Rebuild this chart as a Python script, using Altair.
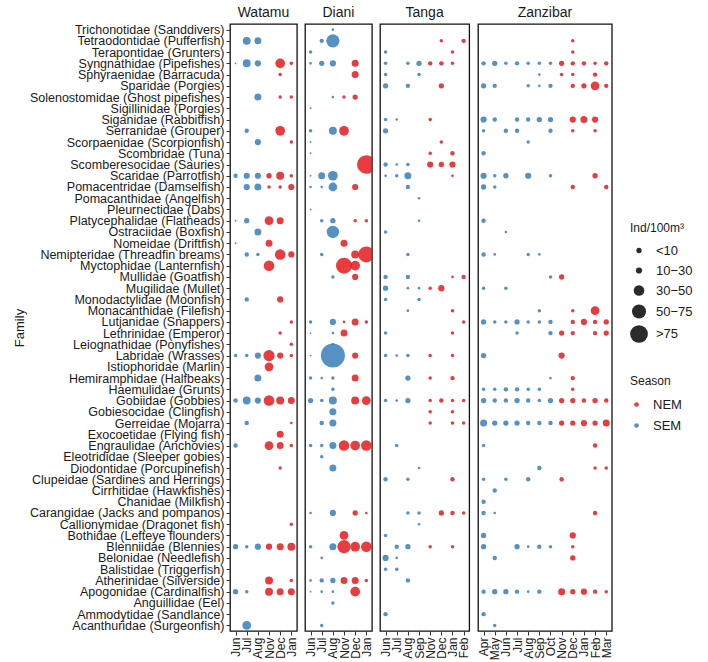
import altair as alt
import pandas as pd

# Families, top to bottom
FAMILIES = [
    "Trichonotidae (Sanddivers)", "Tetraodontidae (Pufferfish)", "Terapontidae (Grunters)",
    "Syngnathidae (Pipefishes)", "Sphyraenidae (Barracuda)", "Sparidae (Porgies)",
    "Solenostomidae (Ghost pipefishes)", "Sigillinidae (Porgies)", "Siganidae (Rabbitfish)",
    "Serranidae (Grouper)", "Scorpaenidae (Scorpionfish)", "Scombridae (Tuna)",
    "Scomberesocidae (Sauries)", "Scaridae (Parrotfish)", "Pomacentridae (Damselfish)",
    "Pomacanthidae (Angelfish)", "Pleurnectidae (Dabs)", "Platycephalidae (Flatheads)",
    "Ostraciidae (Boxfish)", "Nomeidae (Driftfish)", "Nemipteridae (Threadfin breams)",
    "Myctophidae (Lanternfish)", "Mullidae (Goatfish)", "Mugilidae (Mullet)",
    "Monodactylidae (Moonfish)", "Monacanthidae (Filefish)", "Lutjanidae (Snappers)",
    "Lethrinidae (Emperor)", "Leiognathidae (Ponyfishes)", "Labridae (Wrasses)",
    "Istiophoridae (Marlin)", "Hemiramphidae (Halfbeaks)", "Haemulidae (Grunts)",
    "Gobiidae (Gobbies)", "Gobiesocidae (Clingfish)", "Gerreidae (Mojarra)",
    "Exocoetidae (Flying fish)", "Engraulidae (Anchovies)", "Eleotrididae (Sleeper gobies)",
    "Diodontidae (Porcupinefish)", "Clupeidae (Sardines and Herrings)", "Cirrhitidae (Hawkfishes)",
    "Chanidae (Milkfish)", "Carangidae (Jacks and pompanos)", "Callionymidae (Dragonet fish)",
    "Bothidae (Lefteye flounders)", "Blenniidae (Blennies)", "Belonidae (Needlefish)",
    "Balistidae (Triggerfish)", "Atherinidae (Silverside)", "Apogonidae (Cardinalfish)",
    "Anguillidae (Eel)", "Ammodytidae (Sandlance)", "Acanthuridae (Surgeonfish)",
]

SITES = ["Watamu", "Diani", "Tanga", "Zanzibar"]
SITE_MONTHS = {
    "Watamu": ["Jun", "Jul", "Aug", "Nov", "Dec", "Jan"],
    "Diani": ["Jun", "Jul", "Aug", "Nov", "Dec", "Jan"],
    "Tanga": ["Jun", "Jul", "Aug", "Sep", "Nov", "Dec", "Jan", "Feb"],
    "Zanzibar": ["Apr", "May", "Jun", "Jul", "Aug", "Sep", "Oct", "Nov", "Dec", "Jan", "Feb", "Mar"],
}
NEM_MONTHS = ["Nov", "Dec", "Jan", "Feb", "Mar"]

# Larval density (Ind/100m3) per family and sampling month
WATAMU = [
    ("Tetraodontidae", "Jul", 18), ("Tetraodontidae", "Aug", 14),
    ("Syngnathidae", "Jun", 1), ("Syngnathidae", "Jul", 18), ("Syngnathidae", "Aug", 11),
    ("Syngnathidae", "Dec", 27), ("Syngnathidae", "Jan", 3.5),
    ("Sphyraenidae", "Dec", 3.5),
    ("Solenostomidae", "Aug", 14), ("Solenostomidae", "Dec", 3.5), ("Solenostomidae", "Jan", 3.5),
    ("Serranidae", "Jul", 5.5), ("Serranidae", "Dec", 27),
    ("Scorpaenidae", "Aug", 11), ("Scorpaenidae", "Jan", 3.5),
    ("Scaridae", "Jun", 5.5), ("Scaridae", "Jul", 11), ("Scaridae", "Aug", 11),
    ("Scaridae", "Nov", 8), ("Scaridae", "Dec", 18), ("Scaridae", "Jan", 3.5),
    ("Pomacentridae", "Jul", 11), ("Pomacentridae", "Aug", 14), ("Pomacentridae", "Nov", 3.5),
    ("Pomacentridae", "Dec", 3.5), ("Pomacentridae", "Jan", 11),
    ("Platycephalidae", "Jun", 1), ("Platycephalidae", "Jul", 8), ("Platycephalidae", "Nov", 22),
    ("Platycephalidae", "Dec", 14),
    ("Ostraciidae", "Aug", 14),
    ("Nomeidae", "Jun", 1), ("Nomeidae", "Nov", 14),
    ("Nemipteridae", "Jul", 5.5), ("Nemipteridae", "Aug", 3.5), ("Nemipteridae", "Dec", 32),
    ("Nemipteridae", "Jan", 11),
    ("Myctophidae", "Nov", 32),
    ("Monodactylidae", "Jul", 5.5), ("Monodactylidae", "Dec", 11),
    ("Lutjanidae", "Jan", 3.5),
    ("Lethrinidae", "Dec", 3.5),
    ("Leiognathidae", "Jan", 3.5),
    ("Labridae", "Jun", 3.5), ("Labridae", "Jul", 3.5), ("Labridae", "Aug", 11),
    ("Labridae", "Nov", 36), ("Labridae", "Dec", 11), ("Labridae", "Jan", 3.5),
    ("Istiophoridae", "Nov", 22),
    ("Hemiramphidae", "Aug", 14),
    ("Gobiidae", "Jun", 5.5), ("Gobiidae", "Jul", 18), ("Gobiidae", "Aug", 11),
    ("Gobiidae", "Nov", 32), ("Gobiidae", "Dec", 18), ("Gobiidae", "Jan", 14),
    ("Gerreidae", "Jul", 5.5), ("Gerreidae", "Jan", 2),
    ("Exocoetidae", "Dec", 14),
    ("Engraulidae", "Jun", 5.5), ("Engraulidae", "Nov", 22), ("Engraulidae", "Dec", 14),
    ("Engraulidae", "Jan", 3.5),
    ("Diodontidae", "Dec", 3.5),
    ("Callionymidae", "Jan", 3.5),
    ("Blenniidae", "Jun", 8), ("Blenniidae", "Jul", 3.5), ("Blenniidae", "Aug", 11),
    ("Blenniidae", "Nov", 11), ("Blenniidae", "Dec", 14), ("Blenniidae", "Jan", 18),
    ("Atherinidae", "Nov", 18), ("Atherinidae", "Jan", 3.5),
    ("Apogonidae", "Jun", 8), ("Apogonidae", "Jul", 3.5), ("Apogonidae", "Nov", 18),
    ("Apogonidae", "Dec", 14), ("Apogonidae", "Jan", 14),
    ("Acanthuridae", "Jul", 22),
]

DIANI = [
    ("Trichonotidae", "Aug", 2),
    ("Tetraodontidae", "Jul", 5.5), ("Tetraodontidae", "Aug", 50),
    ("Terapontidae", "Jun", 3.5),
    ("Syngnathidae", "Jun", 2), ("Syngnathidae", "Jul", 8), ("Syngnathidae", "Aug", 11),
    ("Syngnathidae", "Dec", 14),
    ("Sphyraenidae", "Dec", 14),
    ("Solenostomidae", "Aug", 2), ("Solenostomidae", "Nov", 3.5), ("Solenostomidae", "Dec", 8),
    ("Sigillinidae", "Jun", 1),
    ("Serranidae", "Jun", 3.5), ("Serranidae", "Aug", 18), ("Serranidae", "Nov", 27),
    ("Scorpaenidae", "Jun", 1),
    ("Scombridae", "Jun", 1),
    ("Scomberesocidae", "Jan", 99),
    ("Scaridae", "Jun", 1), ("Scaridae", "Jul", 14), ("Scaridae", "Aug", 27),
    ("Pomacentridae", "Jun", 2), ("Pomacentridae", "Jul", 2), ("Pomacentridae", "Aug", 22),
    ("Pomacentridae", "Dec", 11),
    ("Pleurnectidae", "Jun", 1),
    ("Platycephalidae", "Jul", 3.5), ("Platycephalidae", "Aug", 8), ("Platycephalidae", "Dec", 3.5),
    ("Platycephalidae", "Jan", 3.5),
    ("Ostraciidae", "Aug", 44),
    ("Nomeidae", "Nov", 14),
    ("Nemipteridae", "Jul", 3.5), ("Nemipteridae", "Dec", 18), ("Nemipteridae", "Jan", 73),
    ("Myctophidae", "Nov", 73), ("Myctophidae", "Dec", 27),
    ("Mullidae", "Aug", 3.5), ("Mullidae", "Dec", 11),
    ("Lutjanidae", "Jun", 3.5), ("Lutjanidae", "Aug", 11), ("Lutjanidae", "Nov", 2),
    ("Lutjanidae", "Dec", 14), ("Lutjanidae", "Jan", 3.5),
    ("Lethrinidae", "Jun", 1), ("Lethrinidae", "Aug", 2), ("Lethrinidae", "Nov", 14),
    ("Leiognathidae", "Aug", 2),
    ("Labridae", "Jun", 1), ("Labridae", "Aug", 165), ("Labridae", "Dec", 11),
    ("Hemiramphidae", "Jun", 3.5), ("Hemiramphidae", "Jul", 2), ("Hemiramphidae", "Aug", 3.5),
    ("Hemiramphidae", "Dec", 14),
    ("Haemulidae", "Aug", 3.5),
    ("Gobiidae", "Jun", 8), ("Gobiidae", "Jul", 3.5), ("Gobiidae", "Aug", 18),
    ("Gobiidae", "Dec", 18), ("Gobiidae", "Jan", 22),
    ("Gobiesocidae", "Aug", 14),
    ("Gerreidae", "Jul", 5.5), ("Gerreidae", "Aug", 14),
    ("Engraulidae", "Jun", 3.5), ("Engraulidae", "Jul", 3.5), ("Engraulidae", "Aug", 14),
    ("Engraulidae", "Nov", 32), ("Engraulidae", "Dec", 27), ("Engraulidae", "Jan", 32),
    ("Eleotrididae", "Jul", 3.5),
    ("Diodontidae", "Aug", 14),
    ("Carangidae", "Jun", 2), ("Carangidae", "Aug", 11), ("Carangidae", "Dec", 8),
    ("Carangidae", "Jan", 2),
    ("Bothidae", "Nov", 22),
    ("Blenniidae", "Jun", 3.5), ("Blenniidae", "Aug", 14), ("Blenniidae", "Nov", 50),
    ("Blenniidae", "Dec", 27), ("Blenniidae", "Jan", 32),
    ("Belonidae", "Jul", 2),
    ("Atherinidae", "Jun", 2), ("Atherinidae", "Jul", 5.5), ("Atherinidae", "Aug", 8),
    ("Atherinidae", "Nov", 14), ("Atherinidae", "Dec", 14), ("Atherinidae", "Jan", 3.5),
    ("Apogonidae", "Jun", 1), ("Apogonidae", "Jul", 2), ("Apogonidae", "Aug", 2),
    ("Apogonidae", "Dec", 27),
    ("Anguillidae", "Aug", 3.5),
    ("Acanthuridae", "Jul", 3.5),
]

TANGA = [
    ("Tetraodontidae", "Dec", 3.5), ("Tetraodontidae", "Feb", 5.5),
    ("Terapontidae", "Jun", 3.5), ("Terapontidae", "Jan", 3.5),
    ("Syngnathidae", "Jun", 3.5), ("Syngnathidae", "Aug", 3.5), ("Syngnathidae", "Sep", 8),
    ("Syngnathidae", "Nov", 5.5), ("Syngnathidae", "Dec", 5.5), ("Syngnathidae", "Jan", 3.5),
    ("Sphyraenidae", "Jun", 3.5), ("Sphyraenidae", "Sep", 3.5),
    ("Sparidae", "Jun", 8), ("Sparidae", "Aug", 5.5), ("Sparidae", "Dec", 8),
    ("Siganidae", "Jun", 3.5), ("Siganidae", "Jul", 2), ("Siganidae", "Nov", 3.5),
    ("Serranidae", "Jun", 8),
    ("Scorpaenidae", "Dec", 3.5),
    ("Scombridae", "Nov", 3.5), ("Scombridae", "Jan", 5.5),
    ("Scomberesocidae", "Jun", 5.5), ("Scomberesocidae", "Jul", 2), ("Scomberesocidae", "Aug", 3.5),
    ("Scomberesocidae", "Nov", 11), ("Scomberesocidae", "Dec", 8), ("Scomberesocidae", "Jan", 11),
    ("Scaridae", "Jun", 2), ("Scaridae", "Jul", 3.5), ("Scaridae", "Aug", 14), ("Scaridae", "Jan", 2),
    ("Pomacentridae", "Aug", 5.5),
    ("Pomacanthidae", "Sep", 2),
    ("Platycephalidae", "Sep", 2),
    ("Ostraciidae", "Jun", 3.5),
    ("Nemipteridae", "Aug", 3.5),
    ("Mullidae", "Jun", 5.5), ("Mullidae", "Aug", 5.5), ("Mullidae", "Jan", 2), ("Mullidae", "Feb", 5.5),
    ("Mugilidae", "Jun", 8), ("Mugilidae", "Aug", 2), ("Mugilidae", "Sep", 2),
    ("Mugilidae", "Nov", 3.5), ("Mugilidae", "Dec", 11),
    ("Monodactylidae", "Jun", 3.5), ("Monodactylidae", "Sep", 3.5),
    ("Monacanthidae", "Aug", 2), ("Monacanthidae", "Jan", 3.5),
    ("Lutjanidae", "Feb", 3.5),
    ("Lethrinidae", "Jun", 3.5), ("Lethrinidae", "Jan", 3.5),
    ("Labridae", "Jun", 3.5), ("Labridae", "Jul", 2), ("Labridae", "Aug", 3.5),
    ("Labridae", "Nov", 3.5), ("Labridae", "Jan", 3.5),
    ("Hemiramphidae", "Aug", 8), ("Hemiramphidae", "Nov", 3.5), ("Hemiramphidae", "Jan", 5.5),
    ("Gobiidae", "Jun", 3.5), ("Gobiidae", "Jul", 2), ("Gobiidae", "Aug", 8), ("Gobiidae", "Nov", 3.5),
    ("Gobiidae", "Dec", 5.5), ("Gobiidae", "Jan", 3.5), ("Gobiidae", "Feb", 3.5),
    ("Gobiesocidae", "Nov", 3.5), ("Gobiesocidae", "Jan", 3.5),
    ("Gerreidae", "Nov", 3.5), ("Gerreidae", "Jan", 3.5), ("Gerreidae", "Feb", 3.5),
    ("Engraulidae", "Jul", 3.5),
    ("Diodontidae", "Sep", 2),
    ("Clupeidae", "Jun", 5.5), ("Clupeidae", "Aug", 3.5), ("Clupeidae", "Jan", 5.5),
    ("Carangidae", "Aug", 3.5), ("Carangidae", "Sep", 3.5), ("Carangidae", "Dec", 8),
    ("Carangidae", "Jan", 5.5), ("Carangidae", "Feb", 3.5),
    ("Callionymidae", "Sep", 2),
    ("Bothidae", "Jun", 3.5),
    ("Blenniidae", "Jul", 5.5), ("Blenniidae", "Aug", 8), ("Blenniidae", "Nov", 3.5),
    ("Blenniidae", "Jan", 3.5),
    ("Belonidae", "Jun", 11), ("Belonidae", "Jul", 2),
    ("Balistidae", "Jun", 3.5), ("Balistidae", "Jul", 3.5),
    ("Atherinidae", "Aug", 5.5),
    ("Ammodytidae", "Jun", 5.5),
]

ZANZIBAR = [
    ("Tetraodontidae", "Dec", 3.5),
    ("Terapontidae", "Dec", 3.5),
    ("Syngnathidae", "Apr", 5.5), ("Syngnathidae", "May", 8), ("Syngnathidae", "Jun", 3.5),
    ("Syngnathidae", "Jul", 5.5), ("Syngnathidae", "Aug", 3.5), ("Syngnathidae", "Sep", 3.5),
    ("Syngnathidae", "Oct", 3.5), ("Syngnathidae", "Nov", 8), ("Syngnathidae", "Dec", 5.5),
    ("Syngnathidae", "Jan", 5.5), ("Syngnathidae", "Feb", 3.5), ("Syngnathidae", "Mar", 5.5),
    ("Sphyraenidae", "Sep", 2), ("Sphyraenidae", "Nov", 3.5), ("Sphyraenidae", "Dec", 3.5),
    ("Sphyraenidae", "Feb", 5.5),
    ("Sparidae", "Apr", 8), ("Sparidae", "May", 5.5), ("Sparidae", "Aug", 3.5), ("Sparidae", "Sep", 2),
    ("Sparidae", "Oct", 5.5), ("Sparidae", "Dec", 5.5), ("Sparidae", "Jan", 8), ("Sparidae", "Feb", 22),
    ("Sparidae", "Mar", 5.5),
    ("Siganidae", "Apr", 11), ("Siganidae", "May", 5.5), ("Siganidae", "Jul", 5.5),
    ("Siganidae", "Aug", 5.5), ("Siganidae", "Sep", 8), ("Siganidae", "Oct", 8),
    ("Siganidae", "Dec", 11), ("Siganidae", "Jan", 14), ("Siganidae", "Feb", 11),
    ("Serranidae", "Apr", 3.5), ("Serranidae", "Jun", 5.5), ("Serranidae", "Jul", 5.5),
    ("Serranidae", "Oct", 5.5), ("Serranidae", "Dec", 3.5), ("Serranidae", "Feb", 3.5),
    ("Scorpaenidae", "Aug", 3.5),
    ("Scombridae", "Apr", 5.5),
    ("Scaridae", "Apr", 11), ("Scaridae", "May", 3.5), ("Scaridae", "Jun", 8), ("Scaridae", "Aug", 11),
    ("Scaridae", "Oct", 3.5), ("Scaridae", "Feb", 8),
    ("Pomacentridae", "Apr", 8), ("Pomacentridae", "May", 3.5), ("Pomacentridae", "Dec", 5.5),
    ("Pomacentridae", "Mar", 5.5),
    ("Platycephalidae", "Apr", 5.5),
    ("Ostraciidae", "Jun", 2),
    ("Nemipteridae", "Apr", 5.5), ("Nemipteridae", "May", 2), ("Nemipteridae", "Aug", 3.5),
    ("Nemipteridae", "Sep", 2),
    ("Mullidae", "Oct", 3.5), ("Mullidae", "Nov", 8),
    ("Mugilidae", "Apr", 3.5), ("Mugilidae", "Jun", 3.5),
    ("Monacanthidae", "Sep", 3.5), ("Monacanthidae", "Dec", 3.5), ("Monacanthidae", "Feb", 22),
    ("Lutjanidae", "Apr", 8), ("Lutjanidae", "May", 3.5), ("Lutjanidae", "Jun", 3.5),
    ("Lutjanidae", "Jul", 8), ("Lutjanidae", "Aug", 3.5), ("Lutjanidae", "Sep", 3.5),
    ("Lutjanidae", "Oct", 5.5), ("Lutjanidae", "Dec", 5.5), ("Lutjanidae", "Jan", 11),
    ("Lutjanidae", "Feb", 5.5), ("Lutjanidae", "Mar", 8),
    ("Lethrinidae", "Jul", 3.5), ("Lethrinidae", "Oct", 5.5), ("Lethrinidae", "Nov", 8),
    ("Lethrinidae", "Dec", 5.5), ("Lethrinidae", "Feb", 5.5), ("Lethrinidae", "Mar", 8),
    ("Labridae", "Apr", 8), ("Labridae", "Nov", 11),
    ("Hemiramphidae", "Oct", 2), ("Hemiramphidae", "Dec", 5.5),
    ("Haemulidae", "Apr", 3.5), ("Haemulidae", "May", 3.5), ("Haemulidae", "Jun", 5.5),
    ("Haemulidae", "Jul", 5.5), ("Haemulidae", "Aug", 3.5), ("Haemulidae", "Sep", 3.5),
    ("Haemulidae", "Dec", 3.5),
    ("Gobiidae", "Apr", 8), ("Gobiidae", "May", 5.5), ("Gobiidae", "Jun", 5.5), ("Gobiidae", "Jul", 8),
    ("Gobiidae", "Aug", 5.5), ("Gobiidae", "Sep", 3.5), ("Gobiidae", "Oct", 8), ("Gobiidae", "Nov", 8),
    ("Gobiidae", "Dec", 8), ("Gobiidae", "Jan", 5.5), ("Gobiidae", "Feb", 8), ("Gobiidae", "Mar", 5.5),
    ("Gerreidae", "Apr", 14), ("Gerreidae", "May", 8), ("Gerreidae", "Jun", 8), ("Gerreidae", "Jul", 8),
    ("Gerreidae", "Aug", 5.5), ("Gerreidae", "Sep", 5.5), ("Gerreidae", "Oct", 5.5),
    ("Gerreidae", "Nov", 8), ("Gerreidae", "Dec", 8), ("Gerreidae", "Jan", 11),
    ("Gerreidae", "Feb", 8), ("Gerreidae", "Mar", 14),
    ("Engraulidae", "Apr", 3.5), ("Engraulidae", "Feb", 5.5),
    ("Diodontidae", "Sep", 5.5), ("Diodontidae", "Feb", 3.5), ("Diodontidae", "Mar", 3.5),
    ("Clupeidae", "Apr", 3.5), ("Clupeidae", "Jun", 3.5), ("Clupeidae", "Aug", 5.5),
    ("Clupeidae", "Nov", 5.5),
    ("Cirrhitidae", "May", 5.5),
    ("Chanidae", "Apr", 5.5),
    ("Carangidae", "Apr", 5.5), ("Carangidae", "May", 2), ("Carangidae", "Feb", 5.5),
    ("Bothidae", "Apr", 8), ("Bothidae", "Dec", 11),
    ("Blenniidae", "Apr", 8), ("Blenniidae", "Jul", 8), ("Blenniidae", "Aug", 2),
    ("Blenniidae", "Sep", 5.5), ("Blenniidae", "Oct", 3.5), ("Blenniidae", "Dec", 3.5),
    ("Belonidae", "May", 5.5), ("Belonidae", "Dec", 8),
    ("Apogonidae", "Apr", 5.5), ("Apogonidae", "May", 8), ("Apogonidae", "Jun", 8),
    ("Apogonidae", "Jul", 5.5), ("Apogonidae", "Aug", 2), ("Apogonidae", "Sep", 5.5),
    ("Apogonidae", "Nov", 14), ("Apogonidae", "Dec", 8), ("Apogonidae", "Jan", 11),
    ("Apogonidae", "Feb", 5.5), ("Apogonidae", "Mar", 3.5),
    ("Ammodytidae", "Apr", 5.5),
    ("Acanthuridae", "May", 3.5),
]

SITE_RECORDS = {"Watamu": WATAMU, "Diani": DIANI, "Tanga": TANGA, "Zanzibar": ZANZIBAR}

SEASONS = ["NEM", "SEM"]
SEASON_COLORS = ["#e41a1c", "#377eb8"]
SIZE_BREAKS = [8, 11, 32, 57, 90]

FONT = "Liberation Sans"
LABEL_FULL = {f.split(" ")[0]: f for f in FAMILIES}

size_scale = alt.Scale(domain=[0, 100], range=[0, 350])
color_scale = alt.Scale(domain=SEASONS, range=SEASON_COLORS)

size_legend = alt.Legend(
    title="Ind/100m³",
    values=SIZE_BREAKS,
    labelExpr=(
        "datum.value < 10 ? '\u2007\u2007<10' : datum.value < 30 ? '10\u221230' : "
        "datum.value < 50 ? '30\u221250' : datum.value < 75 ? '50\u221275' : '\u2007\u2007>75'"
    ),
    orient="none",
    legendX=400,
    legendY=199,
    symbolFillColor="#2b2b2b",
    symbolStrokeWidth=0,
    symbolOpacity=1,
    titlePadding=9,
    rowPadding=6,
    labelOffset=8,
)
color_legend = alt.Legend(
    title="Season",
    orient="none",
    legendX=400,
    legendY=352,
    symbolType="circle",
    symbolSize=22,
    symbolOpacity=0.85,
    rowPadding=7,
    titlePadding=10,
    labelOffset=10,
)


def panel(site, first):
    months = SITE_MONTHS[site]
    df = pd.DataFrame(SITE_RECORDS[site], columns=["family", "month", "density"])
    df["family"] = df["family"].map(LABEL_FULL)
    df["season"] = ["NEM" if m in NEM_MONTHS else "SEM" for m in df["month"]]

    if first:
        y_axis = alt.Axis(
            title="Family", labelFontSize=12.5, labelPadding=2, labelLimit=400, tickSize=4,
            tickColor="#333333", domain=False, titleFontSize=13, titleFontWeight="normal",
            titlePadding=4, gridColor="#c6c6c6", gridWidth=0.9,
        )
    else:
        y_axis = alt.Axis(
            title=None, labels=False, ticks=False, domain=False,
            gridColor="#c6c6c6", gridWidth=0.9,
        )

    return (
        alt.Chart(df, title=alt.TitleParams(site, fontSize=14, fontWeight="normal", offset=4,
                                            anchor="middle", frame="group", font=FONT,
                                            color="#1a1a1a"))
        .mark_circle(opacity=0.85, clip=True)
        .encode(
            x=alt.X("month:N", sort=months, scale=alt.Scale(domain=months),
                    axis=alt.Axis(title=None, labelAngle=-90, labelAlign="right",
                                  labelBaseline="middle", labelFontSize=12, labelPadding=2,
                                  tickSize=4, tickColor="#333333", domain=False, grid=False)),
            y=alt.Y("family:N", scale=alt.Scale(domain=FAMILIES), axis=y_axis),
            size=alt.Size("density:Q", scale=size_scale, legend=size_legend),
            color=alt.Color("season:N", scale=color_scale, legend=color_legend),
        )
        .properties(width=11.15 * len(months), height=607)
    )


chart = (
    alt.hconcat(*[panel(s, i == 0) for i, s in enumerate(SITES)], spacing=5)
    .resolve_scale(x="independent", y="independent", color="shared", size="shared")
    .configure(font=FONT)
    .configure_view(stroke="#111111", strokeWidth=1.3)
    .configure_axis(labelColor="#1a1a1a", titleColor="#1a1a1a", labelFont=FONT, titleFont=FONT)
    .configure_legend(titleFontSize=12, titleFontWeight="normal", labelFontSize=13,
                      titleColor="#1a1a1a", labelColor="#1a1a1a", titleFont=FONT, labelFont=FONT)
    .properties(padding={"left": 12, "top": 4, "right": 5, "bottom": 2})
)

chart.save("out.html", embed_options={"renderer": "svg", "actions": False})
